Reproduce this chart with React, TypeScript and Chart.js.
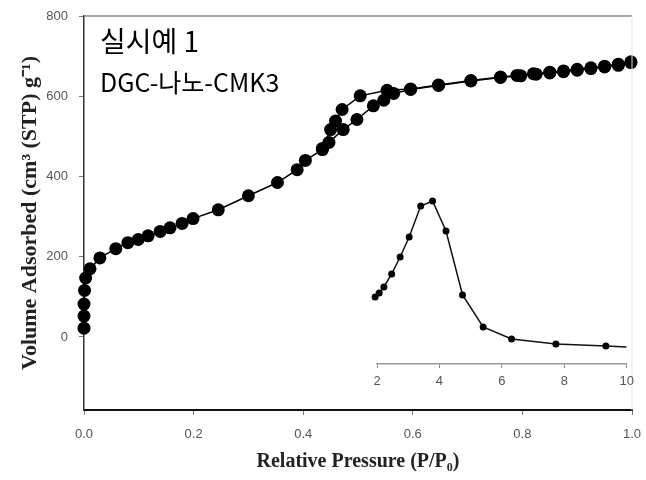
import React, { useEffect, useRef } from "react";
import { Chart, registerables } from "chart.js";
Chart.register(...registerables);

// Main isotherm: adsorption branch
const adsP = [0.0, 0.0, 0.0, 0.001, 0.003, 0.011, 0.029, 0.058, 0.08, 0.099, 0.117, 0.139, 0.157, 0.179, 0.199, 0.245, 0.3, 0.353, 0.389, 0.404, 0.435, 0.447, 0.473, 0.498, 0.528, 0.547, 0.565, 0.596, 0.647, 0.706, 0.76, 0.797, 0.825, 0.85, 0.875, 0.9, 0.925, 0.95, 0.975, 0.998];
const adsV = [22, 52, 82, 116, 147, 170, 197, 220, 235, 243, 252, 263, 272, 283, 295, 317, 352, 385, 417, 440, 467, 485, 517, 542, 576, 590, 607, 617, 627, 638, 647, 651, 655, 658, 661, 665, 669, 673, 677, 684];
// Desorption branch
const desP = [0.998, 0.975, 0.95, 0.925, 0.9, 0.875, 0.85, 0.82, 0.79, 0.76, 0.706, 0.647, 0.596, 0.553, 0.504, 0.471, 0.459, 0.45, 0.435];
const desV = [686, 680, 675, 671, 667, 663, 660, 656, 652, 648, 639, 628, 618, 615, 601, 567, 538, 517, 470];
// Inset: pore size distribution
const poreD = [1.94, 2.07, 2.22, 2.47, 2.74, 3.03, 3.4, 3.78, 4.21, 4.74, 5.4, 6.31, 7.73, 9.33, 9.99];
const poreV = [0.67, 0.71, 0.77, 0.9, 1.07, 1.27, 1.58, 1.63, 1.33, 0.69, 0.37, 0.25, 0.2, 0.18, 0.17];

const xTicks = [0, 0.2, 0.4, 0.6, 0.8, 1.0];
const yTicks = [0, 200, 400, 600, 800];
const insetTicks = [2, 4, 6, 8, 10];
const labelLines = ["실시예 1", "DGC-나노-CMK3"];
const xTitle = "Relative Pressure (P/P₀)";
const yTitle = "Volume Adsorbed (cm³ (STP) g⁻¹)";

const SANS = '"Liberation Sans", Arial, sans-serif';
const SERIF = '"Liberation Serif", "Times New Roman", serif';

export default function App() {
  const mainRef = useRef<HTMLCanvasElement>(null);
  const insetRef = useRef<HTMLCanvasElement>(null);

  useEffect(() => {
    const framePlugin = {
      id: "frame",
      afterDraw(chart: any) {
        const { ctx, chartArea } = chart;
        ctx.save();
        ctx.strokeStyle = "#8a8a8a";
        ctx.lineWidth = 1.5;
        ctx.beginPath();
        ctx.moveTo(chartArea.left, chartArea.top);
        ctx.lineTo(chartArea.right, chartArea.top);
        ctx.stroke();
        ctx.strokeStyle = "#e4e4e4";
        ctx.lineWidth = 1;
        ctx.beginPath();
        ctx.moveTo(chartArea.right, chartArea.top);
        ctx.lineTo(chartArea.right, chartArea.bottom);
        ctx.stroke();
        ctx.fillStyle = "#000";
        ctx.textBaseline = "alphabetic";
        ctx.textAlign = "left";
        ctx.font = '28px "Noto Sans CJK KR", sans-serif';
        ctx.fillText(labelLines[0], chartArea.left + 16, chartArea.top + 36);
        ctx.font = '25px "Noto Sans CJK KR", sans-serif';
        ctx.fillText(labelLines[1], chartArea.left + 16, chartArea.top + 76);
        ctx.restore();
      },
    };

    const mainChart = new Chart(mainRef.current as HTMLCanvasElement, {
      type: "line",
      data: {
        datasets: [
          {
            data: adsP.map((p, i) => ({ x: p, y: adsV[i] })),
            borderColor: "#000",
            backgroundColor: "#000",
            borderWidth: 1.5,
            pointRadius: 6.5,
            pointBorderWidth: 0,
            pointBackgroundColor: "#000",
            tension: 0,
            clip: false,
          },
          {
            data: desP.map((p, i) => ({ x: p, y: desV[i] })),
            borderColor: "#000",
            backgroundColor: "#000",
            borderWidth: 1.5,
            pointRadius: 6.5,
            pointBorderWidth: 0,
            pointBackgroundColor: "#000",
            tension: 0,
            clip: false,
          },
        ],
      },
      options: {
        responsive: false,
        animation: false,
        layout: { padding: { left: 0, right: 14, top: 16, bottom: 0 } },
        plugins: { legend: { display: false }, tooltip: { enabled: false } },
        scales: {
          x: {
            type: "linear",
            min: 0,
            max: 1,
            afterBuildTicks: (s: any) => {
              s.ticks = xTicks.map((v) => ({ value: v }));
            },
            afterFit: (s: any) => {
              s.height = 70;
              s.paddingLeft = 0;
              s.paddingRight = 0;
            },
            ticks: {
              callback: (v: any) => Number(v).toFixed(1),
              font: { family: SANS, size: 13 },
              color: "#555",
              padding: 12,
              maxRotation: 0,
              autoSkip: false,
            },
            grid: { drawOnChartArea: false, tickLength: 5, color: "#777" },
            border: { color: "#111", width: 2 },
            title: {
              display: true,
              text: xTitle,
              font: { family: SERIF, size: 20, weight: "bold" },
              color: "#222",
              padding: { top: 4, bottom: 6 },
            },
          },
          y: {
            type: "linear",
            min: -182,
            max: 800,
            afterBuildTicks: (s: any) => {
              s.ticks = yTicks.map((v) => ({ value: v }));
            },
            afterFit: (s: any) => {
              s.width = 84;
              s.paddingTop = 0;
              s.paddingBottom = 0;
            },
            ticks: {
              callback: (v: any) => String(v),
              font: { family: SANS, size: 13 },
              color: "#555",
              padding: 11,
              autoSkip: false,
            },
            grid: { drawOnChartArea: false, tickLength: 5, color: "#777" },
            border: { color: "#333", width: 1.5 },
            title: {
              display: true,
              text: yTitle,
              font: { family: SERIF, size: 22, weight: "bold" },
              color: "#222",
              padding: { top: 17, bottom: 4 },
            },
          },
        },
      },
      plugins: [framePlugin],
    } as any);

    const insetChart = new Chart(insetRef.current as HTMLCanvasElement, {
      type: "line",
      data: {
        datasets: [
          {
            data: poreD.map((d, i) => ({ x: d, y: poreV[i] })),
            borderColor: "#111",
            backgroundColor: "#000",
            borderWidth: 1.5,
            pointRadius: poreD.map((_, i) => (i === poreD.length - 1 ? 0 : 3.5)),
            pointBorderWidth: 0,
            pointBackgroundColor: "#000",
            tension: 0,
            clip: false,
          },
        ],
      },
      options: {
        responsive: false,
        animation: false,
        layout: { padding: { left: 37, right: 13, top: 14, bottom: 0 } },
        plugins: { legend: { display: false }, tooltip: { enabled: false } },
        scales: {
          x: {
            type: "linear",
            min: 2,
            max: 10,
            afterBuildTicks: (s: any) => {
              s.ticks = insetTicks.map((v) => ({ value: v }));
            },
            afterFit: (s: any) => {
              s.height = 36;
            },
            ticks: {
              font: { family: SANS, size: 13 },
              color: "#555",
              padding: 6,
              maxRotation: 0,
              autoSkip: false,
            },
            grid: { drawOnChartArea: false, tickLength: 4, color: "#888" },
            border: { color: "#999", width: 1.5 },
          },
          y: { display: false, min: 0, max: 1.8 },
        },
      },
    } as any);

    return () => {
      mainChart.destroy();
      insetChart.destroy();
    };
  }, []);

  return (
    <div style={{ position: "absolute", left: 0, top: 0, width: 646, height: 480, background: "#fff" }}>
      <canvas ref={mainRef} width={646} height={480} style={{ position: "absolute", left: 0, top: 0 }} />
      <canvas ref={insetRef} width={300} height={230} style={{ position: "absolute", left: 340, top: 170 }} />
    </div>
  );
}
